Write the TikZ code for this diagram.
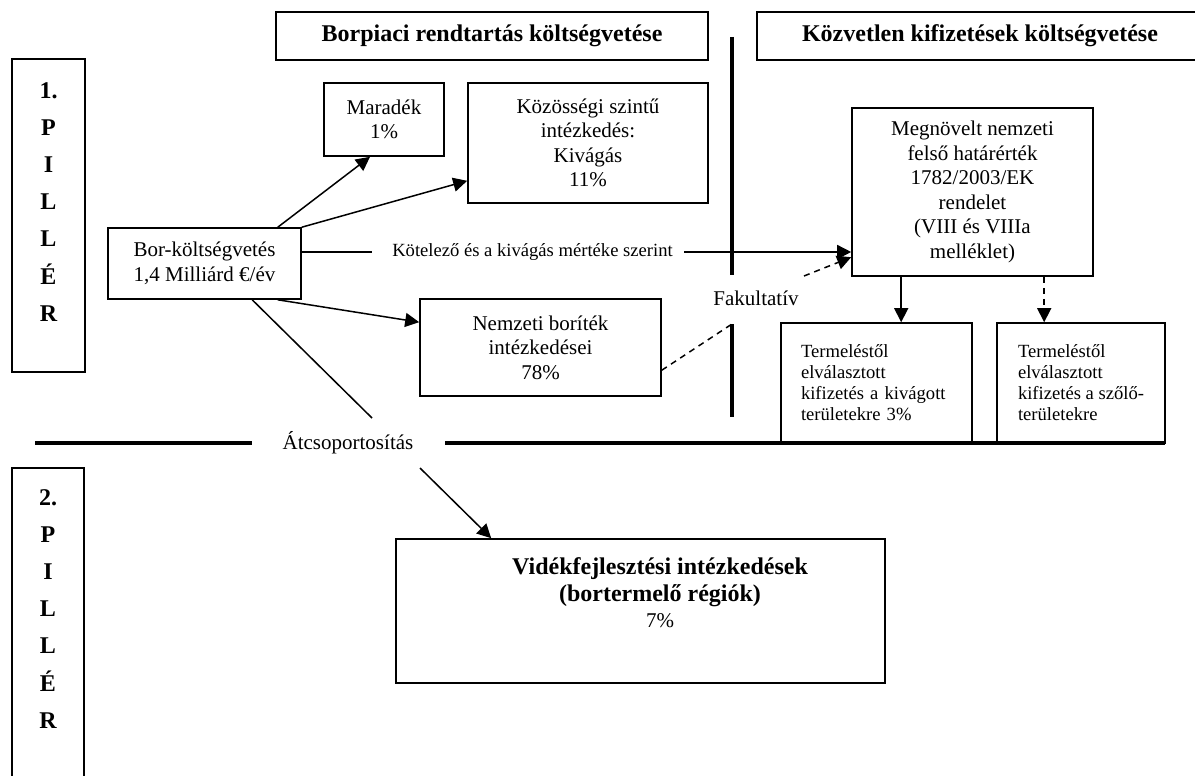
\documentclass[tikz,border=0pt]{standalone}
\usepackage{fontspec}
\setmainfont{Liberation Serif}
\usetikzlibrary{arrows.meta,calc}
\newcommand\fsz[2]{\fontsize{#1}{#2}\selectfont}
\begin{document}
\begin{tikzpicture}[x=1pt,y=-1pt,
  box/.style={draw, line width=1.6pt, inner sep=0pt, align=center},
  body/.style={font=\fsz{21}{24.5}},
  small/.style={font=\fsz{18.6}{21}},
  head/.style={font=\bfseries\fsz{24}{28}},
  pil/.style={font=\bfseries\fsz{24}{37.2}, align=center, inner sep=0pt},
  conn/.style={line width=1.5pt},
  tip/.style={-{Triangle[length=14pt,width=14pt]}},
  arr/.style={conn, tip},
  dsh/.style={conn, dash pattern=on 6pt off 5pt},
  bar/.style={line width=3.5pt},
]
\useasboundingbox (0,0) rectangle (1195,776);

% pillar boxes
\node[box, minimum width=73, minimum height=313] (p1) at (48.5,215.5) {};
\node[pil, anchor=north] (p1t) at (48.5,82) {1.\\P\\I\\L\\L\\É\\R};
\node[box, minimum width=72, minimum height=322] (p2) at (48,629) {};
\node[pil, anchor=north] (p2t) at (48,489) {2.\\P\\I\\L\\L\\É\\R};

% column headings
\node[box, head, minimum width=432, minimum height=48] (h1) at (492,36) {Borpiaci rendtartás költségvetése};
\node[box, minimum width=440, minimum height=48] (h2) at (977,36) {};
\node[head, inner sep=0pt] (h2t) at (980,36) {Közvetlen kifizetések költségvetése};

% separators
\draw[bar] (732,37) -- (732,275);
\coordinate (vb) at (732,324);
\draw[bar] (vb) -- (732,417);
\draw[bar] (35,443) -- (252,443);
\draw[bar] (445,443) -- (1165,443);

% boxes
\node[box, body, minimum width=120, minimum height=73] (mar) at (384,119.5) {Maradék\\1\%};
\node[box, body, minimum width=240, minimum height=120] (koz) at (588,143) {Közösségi szintű\\intézkedés:\\Kivágás\\11\%};
\node[box, body, minimum width=193, minimum height=71] (bor) at (204.5,263.5) {Bor-költségvetés\\1,4 Milliárd €/év};
\node[box, body, minimum width=241, minimum height=97] (nem) at (540.5,347.5) {Nemzeti boríték\\intézkedései\\78\%};
\node[box, body, minimum width=241, minimum height=168] (meg) at (972.5,192) {Megnövelt nemzeti\\felső határérték\\1782/2003/EK\\rendelet\\(VIII és VIIIa\\melléklet)};
\node[box, small, align=left, text width=151, minimum width=191, minimum height=120] (t1) at (876.5,383) {Termeléstől\\elválasztott\\kifizetés a kivágott\\területekre 3\%};
\node[box, small, align=left, minimum width=168, minimum height=120] (t2) at (1081,383) {Termeléstől\\elválasztott\\kifizetés a szőlő-\\területekre};
\node[box, minimum width=489, minimum height=144] (vid) at (640.5,611) {};
\node[font=\bfseries\fsz{24}{26.5}, align=center, inner sep=0pt] (vidt) at (660,593) {Vidékfejlesztési intézkedések\\(bortermelő régiók)\\{\mdseries\fsz{21}{26.5}7\%}};

% free-standing labels
\node[small, inner sep=0pt] (kot) at (532.5,252) {Kötelező és a kivágás mértéke szerint};
\node[body, inner sep=0pt] (fak) at (756,298) {Fakultatív};
\node[body, inner sep=0pt] (atc) at (348,443) {Átcsoportosítás};

% connectors
\draw[arr] ($(bor.north east)+(-24,0)$) -- ($(mar.south)+(-14,0)$);
\draw[arr] (bor.north east) -- ($(koz.south west)+(0,-23)$);
\coordinate (k1) at (372,252);
\coordinate (k2) at (684,252);
\draw[conn] (bor.east |- k1) -- (k1);
\draw[arr] (k2) -- (meg.west |- k2);
\draw[arr] ($(bor.south east)+(-24,0)$) -- ($(nem.north west)+(0,24)$);
\coordinate (a1) at (372,418);
\draw[conn] ($(bor.south west)+(145,0)$) -- (a1);
\coordinate (a2) at (420,468);
\draw[arr] (a2) -- ($(vid.north west)+(96,0)$);
\draw[dsh] ($(nem.north east)+(0,72)$) -- (vb);
\coordinate (f1) at (804,276);
\draw[dsh, tip] (f1) -- ($(meg.north west)+(0,150)$);
\draw[arr] ($(meg.south west)+(50,0)$) coordinate (m1) -- (m1 |- t1.north);
\draw[dsh, tip] ($(meg.south west)+(193,0)$) coordinate (m2) -- (m2 |- t2.north);
\end{tikzpicture}
\end{document}
